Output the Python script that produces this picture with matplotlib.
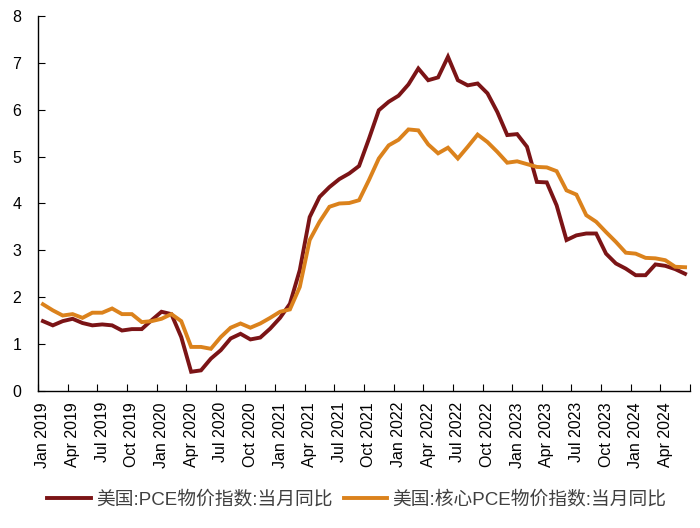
#PCE vs core PCE, year-over-year
import numpy as np
import pandas as pd
import matplotlib
matplotlib.use('Agg')
import matplotlib.pyplot as plt

plt.rcParams['font.family'] = ['Liberation Sans', 'Noto Sans CJK SC', 'DejaVu Sans']

#Monthly data, Jan 2019 - Jun 2024
months = pd.date_range('2019-01-01', '2024-06-01', freq='MS')
pce = [1.49, 1.40, 1.49, 1.54, 1.45, 1.40, 1.42, 1.40, 1.29, 1.32, 1.32, 1.51,
       1.69, 1.64, 1.15, 0.41, 0.44, 0.69, 0.87, 1.12, 1.22, 1.10, 1.14, 1.33,
       1.56, 1.86, 2.58, 3.71, 4.14, 4.35, 4.52, 4.64, 4.80, 5.38, 5.99, 6.17,
       6.30, 6.54, 6.88, 6.63, 6.69, 7.13, 6.63, 6.52, 6.56, 6.35, 5.95, 5.46,
       5.48, 5.21, 4.46, 4.45, 3.96, 3.22, 3.32, 3.36, 3.36, 2.93, 2.72, 2.61,
       2.47, 2.47, 2.70, 2.67, 2.60, 2.50]
core_pce = [1.85, 1.72, 1.61, 1.64, 1.56, 1.67, 1.67, 1.76, 1.64, 1.64, 1.47, 1.49,
            1.54, 1.64, 1.49, 0.94, 0.94, 0.90, 1.15, 1.35, 1.44, 1.35, 1.44, 1.56,
            1.69, 1.74, 2.22, 3.22, 3.61, 3.93, 4.00, 4.01, 4.07, 4.50, 4.96, 5.24,
            5.36, 5.58, 5.56, 5.26, 5.07, 5.19, 4.96, 5.21, 5.47, 5.31, 5.10, 4.87,
            4.90, 4.84, 4.78, 4.77, 4.69, 4.28, 4.19, 3.75, 3.61, 3.39, 3.18, 2.95,
            2.93, 2.84, 2.83, 2.79, 2.65, 2.64]
labels = ['美国:PCE物价指数:当月同比', '美国:核心PCE物价指数:当月同比']
colors = ['#7B1416', '#DB821C']
tick_labels = [m.strftime('%b %Y') for m in months[::3]]

fig = plt.figure(figsize=(7, 5.28), dpi=100)
ax = fig.add_axes([0.0543, 0.2595, 0.9314, 0.7102])

x = np.arange(len(months))
ax.plot(x, pce, color=colors[0], lw=2.8, label=labels[0], solid_joinstyle='miter')
ax.plot(x, core_pce, color=colors[1], lw=2.8, label=labels[1], solid_joinstyle='miter')

ax.set_xlim(-0.5, len(months) - 0.5)
ax.set_ylim(0, 8)
ax.set_yticks(range(0, 9))
ax.tick_params(axis='y', direction='in', length=5, labelsize=11.5, pad=12)

#ticks between categories, labels on categories
ax.set_xticks(np.arange(-0.5, len(months), 3))
ax.set_xticklabels([])
ax.set_xticks(x[::3], minor=True)
ax.set_xticklabels(tick_labels, minor=True, rotation=90, fontsize=11.5)
ax.tick_params(axis='x', which='major', direction='in', length=5)
ax.tick_params(axis='x', which='minor', length=0, pad=8)

for s in ['top', 'right']:
    ax.spines[s].set_visible(False)
for s in ['left', 'bottom']:
    ax.spines[s].set_linewidth(1.0)

fig.legend(loc='center', bbox_to_anchor=(0.51, 0.053), ncol=2, frameon=False,
           fontsize=13.5, handlelength=2.3, handletextpad=0.3, columnspacing=0.6,
           labelcolor='#404040')

plt.savefig('out.png', dpi=100)
